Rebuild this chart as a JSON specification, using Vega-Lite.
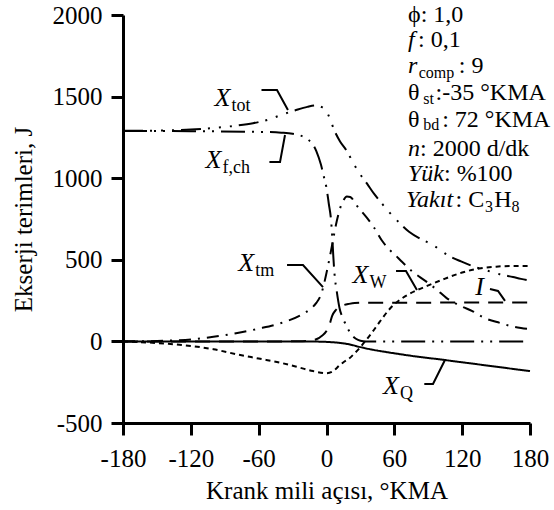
{
  "$schema": "https://vega.github.io/schema/vega-lite/v6.json",
  "width": 407,
  "height": 408,
  "autosize": {"type": "none"},
  "padding": {"left": 123, "top": 15, "right": 24, "bottom": 87},
  "background": "white",
  "config": {
    "view": {"stroke": null},
    "font": "Liberation Serif",
    "axis": {
      "labelFont": "Liberation Serif", "labelFontSize": 25, "labelColor": "black",
      "titleFont": "Liberation Serif", "titleFontSize": 25, "titleFontWeight": "normal", "titleColor": "black",
      "domainColor": "black", "domainWidth": 3, "tickColor": "black", "tickWidth": 3, "tickSize": 12, "grid": false,
      "labelOverlap": false, "labelFlush": false, "labelExpr": "'' + datum.value"
    },
    "axisX": {"labelPadding": 11, "titlePadding": 7},
    "axisY": {"labelPadding": 9, "titlePadding": 16}
  },
  "datasets": {
    "curves": [
      {"s":"Xtot","theta":-180,"value":1290},{"s":"Xtot","theta":-150,"value":1292},{"s":"Xtot","theta":-120,"value":1298},{"s":"Xtot","theta":-100,"value":1308},{"s":"Xtot","theta":-80,"value":1322},{"s":"Xtot","theta":-65,"value":1337},{"s":"Xtot","theta":-50,"value":1362},{"s":"Xtot","theta":-40,"value":1388},{"s":"Xtot","theta":-28,"value":1415},{"s":"Xtot","theta":-17,"value":1437},{"s":"Xtot","theta":-10,"value":1445},{"s":"Xtot","theta":-4,"value":1435},{"s":"Xtot","theta":0,"value":1410},{"s":"Xtot","theta":3,"value":1365},{"s":"Xtot","theta":7,"value":1292},{"s":"Xtot","theta":12,"value":1225},{"s":"Xtot","theta":18,"value":1166},{"s":"Xtot","theta":23,"value":1102},{"s":"Xtot","theta":29,"value":1032},{"s":"Xtot","theta":36,"value":965},{"s":"Xtot","theta":42,"value":905},{"s":"Xtot","theta":49,"value":845},{"s":"Xtot","theta":56,"value":788},{"s":"Xtot","theta":63,"value":737},{"s":"Xtot","theta":73,"value":672},{"s":"Xtot","theta":85,"value":622},{"s":"Xtot","theta":93,"value":595},{"s":"Xtot","theta":108,"value":525},{"s":"Xtot","theta":119,"value":490},{"s":"Xtot","theta":129,"value":462},{"s":"Xtot","theta":140,"value":438},{"s":"Xtot","theta":153,"value":412},{"s":"Xtot","theta":165,"value":394},{"s":"Xtot","theta":172,"value":383},{"s":"Xtot","theta":180,"value":372},
      {"s":"Xfch","theta":-180,"value":1290},{"s":"Xfch","theta":-120,"value":1288},{"s":"Xfch","theta":-60,"value":1284},{"s":"Xfch","theta":-40,"value":1279},{"s":"Xfch","theta":-30,"value":1272},{"s":"Xfch","theta":-18,"value":1245},{"s":"Xfch","theta":-9,"value":1166},{"s":"Xfch","theta":-5,"value":1085},{"s":"Xfch","theta":-2,"value":1000},{"s":"Xfch","theta":0,"value":940},{"s":"Xfch","theta":2,"value":845},{"s":"Xfch","theta":4,"value":745},{"s":"Xfch","theta":5,"value":650},{"s":"Xfch","theta":6,"value":525},{"s":"Xfch","theta":7,"value":420},{"s":"Xfch","theta":9,"value":310},{"s":"Xfch","theta":11.5,"value":205},{"s":"Xfch","theta":15,"value":135},{"s":"Xfch","theta":18.5,"value":83},{"s":"Xfch","theta":22,"value":42},{"s":"Xfch","theta":26,"value":16},{"s":"Xfch","theta":30,"value":4},{"s":"Xfch","theta":35,"value":0},{"s":"Xfch","theta":60,"value":0},{"s":"Xfch","theta":120,"value":0},{"s":"Xfch","theta":180,"value":0},
      {"s":"Xtm","theta":-180,"value":0},{"s":"Xtm","theta":-160,"value":1},{"s":"Xtm","theta":-140,"value":5},{"s":"Xtm","theta":-120,"value":12},{"s":"Xtm","theta":-100,"value":28},{"s":"Xtm","theta":-80,"value":50},{"s":"Xtm","theta":-60,"value":78},{"s":"Xtm","theta":-40,"value":113},{"s":"Xtm","theta":-24,"value":156},{"s":"Xtm","theta":-15,"value":195},{"s":"Xtm","theta":-9,"value":236},{"s":"Xtm","theta":-5,"value":285},{"s":"Xtm","theta":-3,"value":330},{"s":"Xtm","theta":0,"value":420},{"s":"Xtm","theta":3,"value":520},{"s":"Xtm","theta":6,"value":630},{"s":"Xtm","theta":9,"value":735},{"s":"Xtm","theta":12,"value":815},{"s":"Xtm","theta":15,"value":865},{"s":"Xtm","theta":18,"value":888},{"s":"Xtm","theta":21,"value":885},{"s":"Xtm","theta":27,"value":830},{"s":"Xtm","theta":36,"value":755},{"s":"Xtm","theta":42,"value":698},{"s":"Xtm","theta":49,"value":618},{"s":"Xtm","theta":56,"value":560},{"s":"Xtm","theta":60,"value":535},{"s":"Xtm","theta":66,"value":493},{"s":"Xtm","theta":76,"value":428},{"s":"Xtm","theta":88,"value":368},{"s":"Xtm","theta":97,"value":320},{"s":"Xtm","theta":106,"value":267},{"s":"Xtm","theta":119,"value":216},{"s":"Xtm","theta":129,"value":186},{"s":"Xtm","theta":139,"value":146},{"s":"Xtm","theta":154,"value":112},{"s":"Xtm","theta":164,"value":92},{"s":"Xtm","theta":172,"value":82},{"s":"Xtm","theta":180,"value":75},
      {"s":"XW","theta":-180,"value":0},{"s":"XW","theta":-160,"value":-6},{"s":"XW","theta":-140,"value":-15},{"s":"XW","theta":-120,"value":-28},{"s":"XW","theta":-100,"value":-48},{"s":"XW","theta":-80,"value":-78},{"s":"XW","theta":-60,"value":-105},{"s":"XW","theta":-40,"value":-132},{"s":"XW","theta":-24,"value":-160},{"s":"XW","theta":-12,"value":-182},{"s":"XW","theta":0,"value":-195},{"s":"XW","theta":5,"value":-186},{"s":"XW","theta":8,"value":-170},{"s":"XW","theta":11,"value":-150},{"s":"XW","theta":15,"value":-128},{"s":"XW","theta":20,"value":-105},{"s":"XW","theta":25,"value":-72},{"s":"XW","theta":30,"value":-35},{"s":"XW","theta":35,"value":8},{"s":"XW","theta":40,"value":52},{"s":"XW","theta":45,"value":100},{"s":"XW","theta":50,"value":148},{"s":"XW","theta":55,"value":192},{"s":"XW","theta":60,"value":228},{"s":"XW","theta":66,"value":260},{"s":"XW","theta":73,"value":290},{"s":"XW","theta":89,"value":340},{"s":"XW","theta":105,"value":385},{"s":"XW","theta":120,"value":422},{"s":"XW","theta":135,"value":447},{"s":"XW","theta":150,"value":458},{"s":"XW","theta":165,"value":462},{"s":"XW","theta":180,"value":462},
      {"s":"XQ","theta":-180,"value":0},{"s":"XQ","theta":-120,"value":0},{"s":"XQ","theta":-60,"value":0},{"s":"XQ","theta":-30,"value":0},{"s":"XQ","theta":-10,"value":-1},{"s":"XQ","theta":0,"value":-3},{"s":"XQ","theta":10,"value":-8},{"s":"XQ","theta":20,"value":-18},{"s":"XQ","theta":30,"value":-35},{"s":"XQ","theta":40,"value":-50},{"s":"XQ","theta":50,"value":-62},{"s":"XQ","theta":60,"value":-73},{"s":"XQ","theta":80,"value":-93},{"s":"XQ","theta":100,"value":-110},{"s":"XQ","theta":120,"value":-128},{"s":"XQ","theta":140,"value":-146},{"s":"XQ","theta":160,"value":-164},{"s":"XQ","theta":180,"value":-182},
      {"s":"I","theta":-180,"value":0},{"s":"I","theta":-40,"value":0},{"s":"I","theta":-25,"value":1},{"s":"I","theta":-15,"value":4},{"s":"I","theta":-9,"value":13},{"s":"I","theta":-4,"value":35},{"s":"I","theta":0,"value":64},{"s":"I","theta":3,"value":110},{"s":"I","theta":5,"value":157},{"s":"I","theta":8,"value":190},{"s":"I","theta":10,"value":205},{"s":"I","theta":15,"value":222},{"s":"I","theta":20,"value":230},{"s":"I","theta":25,"value":235},{"s":"I","theta":35,"value":237},{"s":"I","theta":180,"value":238}
    ],
    "leaders": [
      {"id":"tot","ord":1,"theta":-57.5,"value":1540},{"id":"tot","ord":2,"theta":-43.8,"value":1540},{"id":"tot","ord":3,"theta":-34.1,"value":1418},
      {"id":"fch","ord":1,"theta":-50.5,"value":1099},{"id":"fch","ord":2,"theta":-41.1,"value":1099},{"id":"fch","ord":3,"theta":-36.7,"value":1265},
      {"id":"tm","ord":1,"theta":-34.9,"value":468},{"id":"tm","ord":2,"theta":-20.8,"value":468},{"id":"tm","ord":3,"theta":-3.1,"value":333},
      {"id":"W","ord":1,"theta":61.5,"value":431},{"id":"W","ord":2,"theta":70.3,"value":431},{"id":"W","ord":3,"theta":80.0,"value":315},
      {"id":"I","ord":1,"theta":144.6,"value":321},{"id":"I","ord":2,"theta":151.7,"value":309},{"id":"I","ord":3,"theta":157.9,"value":248},
      {"id":"Q","ord":1,"theta":86.5,"value":-261},{"id":"Q","ord":2,"theta":94.2,"value":-261},{"id":"Q","ord":3,"theta":104.8,"value":-114}
    ],
    "labelMain": [
      {"t":"X","theta":-99,"value":1445},
      {"t":"X","theta":-107,"value":1063},
      {"t":"X","theta":-78,"value":431},
      {"t":"X","theta":23,"value":358},
      {"t":"I","theta":131.5,"value":284},
      {"t":"X","theta":50,"value":-322}
    ],
    "labelSub": [
      {"t":"tot","theta":-84,"value":1413},
      {"t":"f,ch","theta":-92,"value":1032},
      {"t":"tm","theta":-63,"value":400},
      {"t":"W","theta":38,"value":327},
      {"t":"Q","theta":65,"value":-353}
    ],
    "paramNormal": [
      {"t":"ϕ: 1,0","theta":72.1,"value":1958},
      {"t":": 0,1","theta":81,"value":1805},
      {"t":": 9","theta":117,"value":1642},
      {"t":"θ","theta":72.1,"value":1480},
      {"t":":-35 °KMA","theta":96.5,"value":1480},
      {"t":"θ","theta":72.1,"value":1316},
      {"t":": 72 °KMA","theta":102.3,"value":1316},
      {"t":" : 2000 d/dk","theta":82.7,"value":1137},
      {"t":" : %100","theta":103.9,"value":980},
      {"t":": C","theta":114.1,"value":822},
      {"t":"H","theta":148.3,"value":822}
    ],
    "paramItalic": [
      {"t":"f","theta":72.1,"value":1805},
      {"t":"r","theta":72.1,"value":1642},
      {"t":"n","theta":72.1,"value":1137},
      {"t":"Yük","theta":72.1,"value":980},
      {"t":"Yakıt","theta":70.3,"value":822}
    ],
    "paramSub": [
      {"t":"comp","theta":81.5,"value":1612},
      {"t":"st","theta":85.5,"value":1452},
      {"t":"bd","theta":85.5,"value":1295},
      {"t":"3","theta":140.2,"value":791},
      {"t":"8","theta":163.6,"value":791}
    ]
  },
  "encoding": {
    "x": {"field":"theta","type":"quantitative","scale":{"domain":[-180,180],"nice":false},"axis":{"values":[-180,-120,-60,0,60,120,180],"title":"Krank mili açısı, °KMA"}},
    "y": {"field":"value","type":"quantitative","scale":{"domain":[-500,2000],"nice":false,"zero":false},"axis":{"values":[-500,0,500,1000,1500,2000],"title":"Ekserji terimleri, J"}}
  },
  "layer": [
    {
      "data": {"name":"curves"},
      "mark": {"type":"line","color":"black","strokeWidth":2,"interpolate":"monotone"},
      "encoding": {
        "detail": {"field":"s","type":"nominal"},
        "strokeDash": {"field":"s","type":"nominal","legend":null,"scale":{"domain":["Xtot","Xfch","Xtm","XW","XQ","I"],"range":[[20,7,2,9,2,9,2,7],[24,7,2,7,2,7],[12,7,2,7],[5,4],[1,0],[15,9]]}}
      }
    },
    {
      "data": {"name":"leaders"},
      "mark": {"type":"line","color":"black","strokeWidth":2},
      "encoding": {
        "detail": {"field":"id","type":"nominal"},
        "order": {"field":"ord","type":"quantitative"}
      }
    },
    {
      "data": {"name":"labelMain"},
      "mark": {"type":"text","font":"Liberation Serif","fontSize":26,"fontStyle":"italic","align":"left","baseline":"alphabetic","color":"black"},
      "encoding": {"text": {"field":"t","type":"nominal"}}
    },
    {
      "data": {"name":"labelSub"},
      "mark": {"type":"text","font":"Liberation Serif","fontSize":18,"align":"left","baseline":"alphabetic","color":"black"},
      "encoding": {"text": {"field":"t","type":"nominal"}}
    },
    {
      "data": {"name":"paramNormal"},
      "mark": {"type":"text","font":"Liberation Serif","fontSize":24,"align":"left","baseline":"alphabetic","color":"black"},
      "encoding": {"text": {"field":"t","type":"nominal"}}
    },
    {
      "data": {"name":"paramItalic"},
      "mark": {"type":"text","font":"Liberation Serif","fontSize":24,"fontStyle":"italic","align":"left","baseline":"alphabetic","color":"black"},
      "encoding": {"text": {"field":"t","type":"nominal"}}
    },
    {
      "data": {"name":"paramSub"},
      "mark": {"type":"text","font":"Liberation Serif","fontSize":16,"align":"left","baseline":"alphabetic","color":"black"},
      "encoding": {"text": {"field":"t","type":"nominal"}}
    }
  ]
}
